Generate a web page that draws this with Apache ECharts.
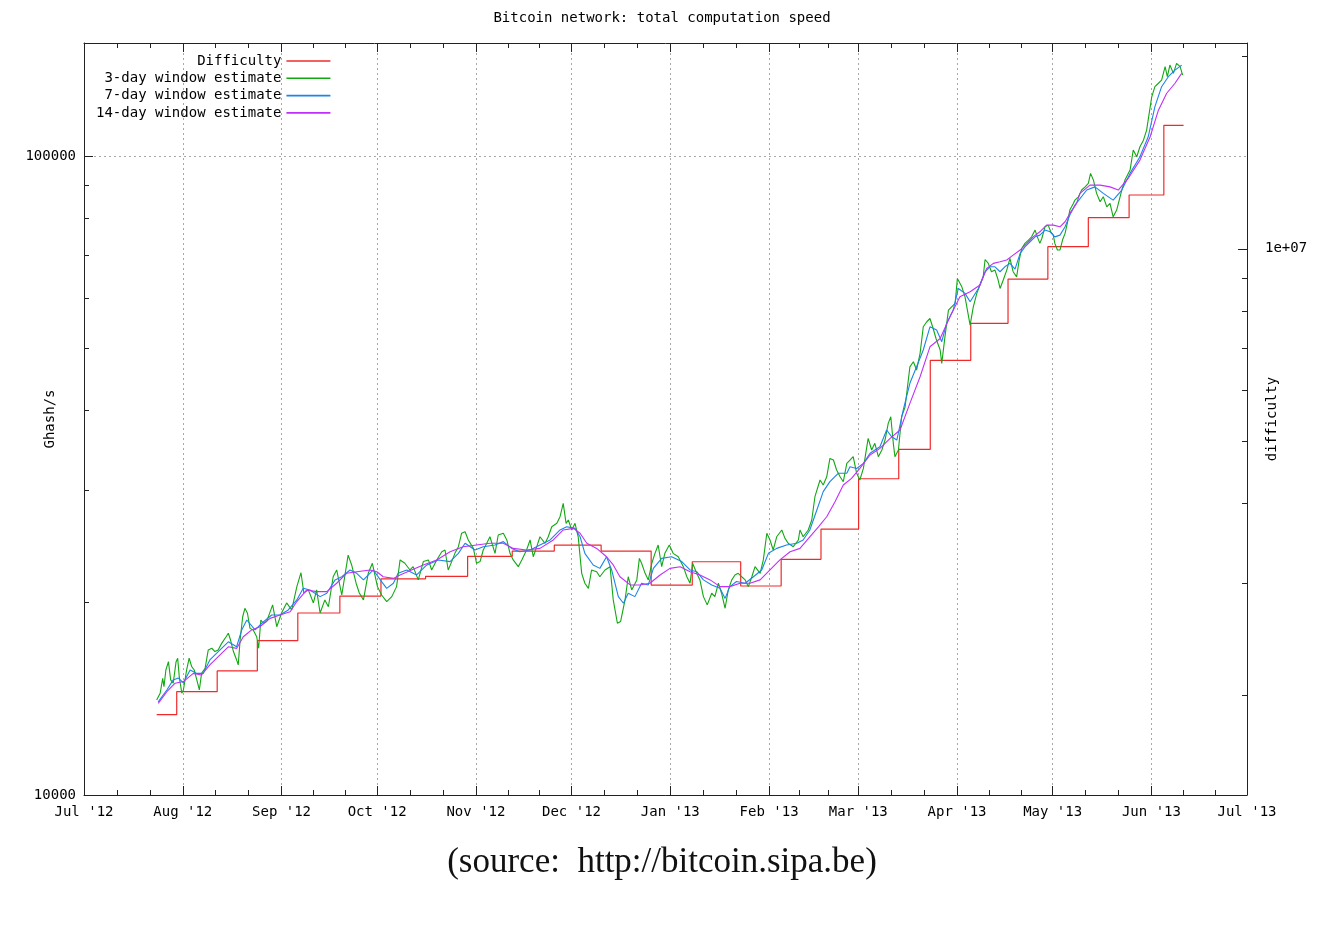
<!DOCTYPE html>
<html>
<head>
<meta charset="utf-8">
<script src="https://cdn.jsdelivr.net/npm/echarts@6/dist/echarts.min.js"></script>
<style>
html,body{margin:0;padding:0;background:#fff;}
#chart{width:1324px;height:929px;}
</style>
</head>
<body>
<div id="chart"></div>
<script>
// ---- data (x = days since 2012-07-01, y = value) ----
const monthNames = ['Jan','Feb','Mar','Apr','May','Jun','Jul','Aug','Sep','Oct','Nov','Dec'];
const seriesNames = ['Difficulty','3-day window estimate','7-day window estimate','14-day window estimate'];

// difficulty (right axis), each value starts at the given day
const difficulty = [[22.8,1866000],[29.1,2027000],[41.8,2185000],[54.4,2436000],[67.1,2692000],[80.3,2861000],[93.2,3045000],[107.2,3072000],[120.4,3302000],[134.4,3365000],[147.6,3438000],[162.3,3365000],[178.0,2977000],[190.9,3238000],[206.1,2967000],[218.8,3266000],[231.3,3643000],[243.1,4367000],[255.7,4855000],[265.6,6690000],[278.3,7646000],[290.0,8967000],[302.5,10077000],[315.2,11187000],[328.0,12140000],[338.9,15605000],[345.1,15605000]];

// hash-rate estimates, Ghash/s (left axis)
const est3 = [[22.8,14080],[23.9,14430],[24.7,15220],[25.1,14780],[25.7,15690],[26.5,16170],[27.2,15140],[28.0,14960],[28.9,16170],[29.4,16370],[29.9,15310],[30.7,14430],[31.2,14600],[32.2,15690],[33.0,16370],[33.8,15880],[34.6,15690],[35.4,15140],[36.2,14600],[36.9,15500],[38.0,15780],[39.0,16870],[40.1,16970],[41.1,16770],[42.1,16870],[43.2,17270],[44.6,17690],[45.3,17910],[46.0,17480],[46.9,16770],[47.9,16270],[48.4,15980],[49.0,17480],[49.8,19010],[50.5,19600],[51.3,19250],[52.1,18230],[53.1,18130],[54.2,17690],[54.8,16970],[55.5,18790],[56.3,18570],[57.3,18680],[59.2,19840],[60.5,18340],[62.0,19270],[63.6,19980],[65.2,19480],[66.8,21190],[68.1,22280],[69.0,20710],[70.4,20940],[72.0,19980],[73.0,20940],[74.1,19270],[75.6,20200],[76.7,19710],[78.2,21960],[79.3,22500],[80.9,20560],[82.9,23740],[84.0,22910],[85.4,21450],[86.4,20710],[87.7,20200],[89.2,22230],[90.5,23050],[92.1,21190],[93.4,20560],[95.0,20080],[96.6,20440],[98.1,21190],[99.2,23330],[100.7,23050],[102.3,22500],[103.3,22770],[104.9,21710],[106.5,23190],[108.1,23330],[109.1,22500],[110.7,23330],[112.3,24030],[113.3,24180],[114.3,22500],[115.4,23190],[116.4,23890],[117.5,24470],[118.5,25680],[119.6,25830],[120.6,25070],[122.2,24320],[123.2,23050],[124.3,23190],[125.3,24180],[126.4,24770],[127.4,25360],[129.0,23890],[130.0,25520],[131.6,25680],[132.7,25070],[133.7,23890],[134.7,23330],[136.3,22770],[137.4,23330],[138.9,24180],[140.0,25070],[141.0,23600],[142.1,24470],[143.1,25360],[144.7,24770],[145.7,25360],[146.8,26290],[148.4,26620],[149.4,27260],[150.4,28610],[151.3,26620],[152.0,26940],[153.1,25990],[154.1,26620],[155.1,25360],[156.2,22230],[157.2,21450],[158.3,21060],[159.3,22500],[160.9,22360],[161.9,21960],[163.5,22500],[165.1,22770],[166.1,20200],[167.4,18570],[168.4,18680],[169.8,20200],[170.8,21960],[171.9,20940],[173.5,21710],[174.3,23460],[175.0,23050],[176.1,22230],[177.1,21710],[178.2,23050],[179.2,23890],[180.2,24620],[181.3,22770],[182.3,23890],[183.7,24620],[184.9,23890],[186.5,23600],[188.1,22770],[189.2,21960],[190.2,21450],[191.0,23050],[192.3,22230],[193.3,21710],[194.4,20440],[195.6,19840],[197.0,20690],[198.0,20440],[199.1,21450],[200.1,20690],[201.2,19600],[202.2,20940],[203.3,21710],[204.3,22100],[205.3,22230],[206.4,21960],[207.5,21710],[208.5,21190],[209.6,21960],[210.6,22770],[212.2,22230],[213.2,23330],[214.3,25680],[215.3,25070],[216.3,24180],[217.4,25360],[219.0,25990],[220.0,25210],[221.0,24770],[222.6,24470],[224.2,25070],[224.7,25990],[225.7,25360],[227.3,25990],[228.4,26940],[229.4,29300],[231.0,31120],[232.0,30560],[233.1,31480],[234.1,33630],[235.2,33440],[236.2,32260],[237.3,31480],[238.3,30930],[239.4,33040],[240.4,33440],[241.4,33840],[242.5,31880],[243.5,31120],[244.6,32440],[246.1,36150],[247.2,34670],[248.2,35510],[249.3,33840],[250.4,34670],[251.4,35940],[252.4,38160],[253.2,39080],[254.0,35510],[254.5,33840],[255.6,34670],[256.6,39080],[257.7,40510],[259.2,46790],[260.3,47660],[261.3,46250],[262.4,49120],[263.4,54050],[264.5,55040],[265.5,55690],[266.5,53720],[267.4,51820],[268.7,49710],[269.2,47380],[270.2,52130],[271.3,57410],[272.3,58090],[273.4,58810],[274.1,64330],[275.5,62430],[276.5,60210],[278.1,54380],[279.1,58090],[280.2,60970],[281.2,62820],[282.2,64710],[282.8,68880],[283.8,67930],[284.8,65910],[285.9,66310],[286.9,63970],[287.5,62060],[288.5,63970],[289.6,66310],[290.6,69140],[291.6,65910],[292.7,64710],[293.5,68750],[294.3,71670],[295.3,73000],[296.4,73880],[297.4,74740],[298.5,76590],[299.2,74740],[300.0,73000],[300.6,74300],[301.6,77490],[302.6,77970],[303.4,76120],[304.2,75220],[304.7,73000],[305.5,71270],[306.3,71270],[307.1,73880],[307.9,75680],[308.6,78460],[309.4,82310],[310.5,84310],[311.0,85330],[312.1,86350],[313.1,88480],[314.2,89490],[315.2,90610],[315.9,93950],[316.8,91700],[317.8,87430],[318.9,84810],[319.9,86350],[321.0,83270],[322.0,84310],[323.0,80330],[324.1,82310],[324.9,85330],[325.7,88480],[326.7,91700],[328.3,95080],[329.3,102200],[330.4,99750],[331.4,103400],[332.5,105900],[333.5,109800],[334.3,116600],[335.1,123800],[336.1,128400],[337.2,130000],[338.2,131500],[339.3,138000],[340.0,133100],[340.8,138800],[341.9,134700],[342.9,139700],[344.0,138000],[344.8,133900]];

const est7 = [[23.3,13990],[26.0,14600],[28.0,15140],[29.6,15240],[31.2,14980],[33.3,15690],[35.4,15500],[37.4,15500],[39.5,16270],[42.7,16870],[45.3,17370],[47.9,17060],[49.5,18130],[51.1,18790],[53.7,18130],[55.8,18570],[58.9,19130],[61.5,19130],[64.1,19480],[66.8,20200],[68.8,21060],[70.9,20940],[74.1,20440],[76.2,20690],[78.8,21710],[80.9,21960],[83.5,22500],[85.6,22230],[87.7,21710],[90.8,22500],[93.4,21580],[95.0,21060],[97.1,21450],[98.6,22230],[101.3,22500],[104.4,22100],[107.6,22910],[111.2,23330],[114.9,23190],[117.5,23890],[119.6,24770],[122.7,24180],[125.3,24470],[129.0,24620],[131.6,24920],[134.2,24320],[136.8,24030],[140.0,24180],[143.1,24620],[146.3,25070],[149.4,25990],[151.5,26290],[154.1,26140],[155.7,25360],[157.2,23890],[159.8,22910],[161.9,22630],[164.0,23600],[165.6,22500],[167.7,20440],[169.3,19960],[170.8,20690],[172.9,20440],[175.0,21450],[177.1,21320],[178.7,22630],[181.3,23460],[184.4,23600],[187.6,23190],[190.2,22500],[192.3,22360],[194.4,21710],[197.0,21320],[199.6,21060],[201.2,20310],[202.7,21190],[204.8,21580],[207.5,21450],[210.1,21960],[212.7,22500],[214.8,23890],[217.4,24320],[220.5,24620],[223.7,24770],[225.7,25070],[227.8,25990],[230.0,27930],[232.0,29840],[234.1,30930],[236.7,31880],[239.4,31880],[240.4,32630],[242.5,32440],[244.6,33040],[246.7,34260],[249.8,35070],[251.9,37260],[253.5,36360],[255.1,35940],[257.1,40040],[259.2,44090],[261.3,46790],[263.4,49710],[265.5,54050],[267.6,53420],[269.2,51220],[270.7,54720],[272.8,57410],[274.4,62060],[276.5,60970],[278.1,59160],[280.7,62060],[282.8,65910],[284.3,67090],[285.9,67090],[287.5,65910],[289.0,67090],[290.6,67930],[292.2,66520],[293.8,70420],[295.3,72100],[296.9,73430],[298.5,74740],[300.0,75210],[301.6,76590],[303.2,76120],[304.7,74740],[306.3,75210],[307.9,77490],[309.4,80830],[311.0,83790],[314.7,88480],[317.3,89490],[319.9,87430],[323.0,85330],[325.7,88480],[328.3,93950],[331.4,99750],[334.0,107200],[336.1,119500],[338.2,128400],[340.3,133100],[342.4,136300],[344.5,138800]];

const est14 = [[23.3,13910],[26.0,14510],[28.6,14960],[31.2,15050],[34.3,15500],[36.9,15410],[39.5,15980],[42.7,16570],[45.3,17060],[47.9,16960],[50.0,17690],[52.6,18130],[55.2,18340],[58.4,18900],[61.5,19130],[64.7,19360],[66.8,20080],[69.9,20940],[73.0,20810],[76.2,20810],[79.3,21450],[82.4,22230],[85.6,22360],[89.8,22500],[91.9,22360],[93.9,21960],[97.1,21830],[99.2,22100],[102.8,22500],[106.5,22910],[110.7,23330],[114.9,24030],[119.0,24470],[123.2,24620],[127.4,24770],[131.6,24770],[134.7,24320],[138.9,24180],[143.1,24320],[147.3,25070],[150.4,25990],[153.6,26140],[155.7,25680],[157.8,24770],[160.9,24320],[164.0,23600],[166.1,22910],[168.2,21960],[171.4,21320],[174.5,21320],[177.6,21450],[180.8,22100],[183.9,22630],[187.1,22770],[190.2,22360],[193.3,22100],[196.5,21710],[199.6,21190],[202.7,21190],[205.9,21450],[209.0,21450],[212.2,21710],[215.3,22500],[218.4,23330],[221.6,24030],[224.7,24320],[227.8,25360],[230.5,26290],[233.1,27260],[235.7,28770],[238.3,30560],[240.9,31300],[243.5,32440],[246.7,34050],[249.8,34870],[253.0,36150],[256.1,37260],[259.2,41020],[262.4,45140],[265.5,50290],[268.7,51820],[271.8,56030],[274.9,60210],[278.1,61320],[281.2,62820],[283.3,66690],[285.4,67930],[287.5,68330],[289.6,68750],[291.6,69990],[293.8,71270],[295.9,73000],[297.9,74740],[300.0,76120],[302.1,77970],[304.2,77970],[306.3,77490],[307.9,78920],[309.4,81330],[311.5,84310],[312.6,87430],[315.7,90050],[318.9,90050],[322.0,89490],[324.6,88480],[327.7,92240],[331.4,98560],[334.6,107200],[337.2,118000],[339.8,125400],[342.4,130000],[344.5,134700]];

// axis ranges and tick values
const hashMin = 10000, hashMax = 150300;
const leftMajorTicks = [10000, 100000];
const leftMinorTicks = [20000,30000,40000,50000,60000,70000,80000,90000];
const rightMajorTicks = [10000000];
const rightMinorTicks = [2000000,3000000,4000000,5000000,6000000,7000000,8000000,9000000,20000000];

// ---- helpers ----
const DAY = 86400000;
const t0 = new Date(2012, 6, 1).getTime();
const t1 = new Date(2013, 6, 1).getTime();
const toTime = d => t0 + d * DAY;
const GH_PER_DIFF = Math.pow(2, 32) / 600 / 1e9; // Ghash/s per unit difficulty
const diffMin = hashMin / GH_PER_DIFF, diffMax = hashMax / GH_PER_DIFF;

const monthTicks = [];
for (let i = 0; i <= 12; i++) monthTicks.push(new Date(2012, 6 + i, 1).getTime());
const monthMinor = [];
for (let i = 0; i < 12; i++) {
  const a = monthTicks[i], b = monthTicks[i + 1];
  monthMinor.push(a + (b - a) / 3, a + 2 * (b - a) / 3);
}

const MONO = '"DejaVu Sans Mono", "Liberation Mono", monospace';
const FS = 14;
const BORDER = '#222';
const gridLine = { show: true, lineStyle: { color: '#a8a8a8', width: 1, type: [2, 3] } };

function tAxis(pos, ticks, len, withLine, withLabel, withSplit) {
  return {
    type: 'value', position: pos, min: t0, max: t1, scale: true,
    axisLine: { show: withLine, onZero: false, lineStyle: { color: BORDER, width: 1 } },
    axisTick: { show: true, inside: true, length: len, customValues: ticks, lineStyle: { color: BORDER, width: 1 } },
    axisLabel: withLabel ? {
      show: true, customValues: monthTicks, margin: 10, color: '#000',
      fontFamily: MONO, fontSize: FS, hideOverlap: false,
      formatter: v => { const d = new Date(v); return monthNames[d.getMonth()] + " '" + String(d.getFullYear()).slice(2); }
    } : { show: false },
    splitLine: withSplit ? gridLine : { show: false },
    minorTick: { show: false }, minorSplitLine: { show: false }
  };
}

function lAxis(pos, min, max, ticks, len, withLine, labelOpt, nameOpt, withSplit) {
  const ax = {
    type: 'log', logBase: 10, position: pos, min: min, max: max,
    axisLine: { show: withLine, onZero: false, lineStyle: { color: BORDER, width: 1 } },
    axisTick: { show: true, inside: true, length: len, customValues: ticks, lineStyle: { color: BORDER, width: 1 } },
    axisLabel: labelOpt || { show: false },
    splitLine: withSplit ? gridLine : { show: false },
    minorTick: { show: false }, minorSplitLine: { show: false },
    nameMoveOverlap: false
  };
  if (nameOpt) Object.assign(ax, nameOpt);
  return ax;
}

const chart = echarts.init(document.getElementById('chart'), null, { renderer: 'canvas' });
chart.setOption({
  animation: false,
  backgroundColor: '#fff',
  title: {
    text: 'Bitcoin network: total computation speed',
    left: 'center', top: 6,
    textStyle: { fontFamily: MONO, fontSize: FS, fontWeight: 'normal', color: '#000' }
  },
  legend: {
    data: seriesNames, orient: 'vertical', left: 91, top: 49, align: 'right',
    icon: 'rect', itemWidth: 44, itemHeight: 1.6, itemGap: 3.3, selectedMode: false,
    textStyle: { fontFamily: MONO, fontSize: FS, color: '#000', lineHeight: 14 }
  },
  grid: { left: 84, right: 77, top: 43, bottom: 134, containLabel: false, outerBoundsMode: 'none' },
  xAxis: [
    tAxis('bottom', monthTicks, 9, true, true, true),
    tAxis('bottom', monthMinor, 5, false, false, false),
    tAxis('top', monthTicks, 9, true, false, false),
    tAxis('top', monthMinor, 5, false, false, false)
  ],
  yAxis: [
    lAxis('left', hashMin, hashMax, leftMajorTicks, 9, true,
      { show: true, customValues: leftMajorTicks, margin: 8, color: '#000', fontFamily: MONO, fontSize: FS,
        formatter: v => String(Math.round(v)) },
      { name: 'Ghash/s', nameLocation: 'middle', nameGap: 27, nameRotate: 90,
        nameTextStyle: { fontFamily: MONO, fontSize: FS, color: '#000' } }, true),
    lAxis('left', hashMin, hashMax, leftMinorTicks, 5, false, null, null, false),
    lAxis('right', diffMin, diffMax, rightMajorTicks, 9, true,
      { show: true, customValues: rightMajorTicks, margin: 18, color: '#000', fontFamily: MONO, fontSize: FS,
        formatter: v => '1e+' + String(Math.round(Math.log10(v))).padStart(2, '0') },
      { name: 'difficulty', nameLocation: 'middle', nameGap: 18, nameRotate: 90,
        nameTextStyle: { fontFamily: MONO, fontSize: FS, color: '#000' } }, false),
    lAxis('right', diffMin, diffMax, rightMinorTicks, 5, false, null, null, false)
  ],
  graphic: [{
    type: 'text', left: 'center', top: 845,
    style: { text: '(source:  http://bitcoin.sipa.be)', font: '35px "Liberation Serif", "DejaVu Serif", serif', fill: '#111' }
  }],
  series: [
    { name: seriesNames[0], type: 'line', step: 'end', xAxisIndex: 0, yAxisIndex: 2,
      data: difficulty.map(p => [toTime(p[0]), p[1]]),
      showSymbol: false, symbol: 'none', lineStyle: { color: '#f02a2a', width: 1.2 }, itemStyle: { color: '#f02a2a' } },
    { name: seriesNames[1], type: 'line', xAxisIndex: 0, yAxisIndex: 0,
      data: est3.map(p => [toTime(p[0]), p[1]]),
      showSymbol: false, symbol: 'none', lineStyle: { color: '#12a812', width: 1.1 }, itemStyle: { color: '#12a812' } },
    { name: seriesNames[2], type: 'line', xAxisIndex: 0, yAxisIndex: 0,
      data: est7.map(p => [toTime(p[0]), p[1]]),
      showSymbol: false, symbol: 'none', lineStyle: { color: '#1b86e8', width: 1.1 }, itemStyle: { color: '#1b86e8' } },
    { name: seriesNames[3], type: 'line', xAxisIndex: 0, yAxisIndex: 0,
      data: est14.map(p => [toTime(p[0]), p[1]]),
      showSymbol: false, symbol: 'none', lineStyle: { color: '#c030f8', width: 1.1 }, itemStyle: { color: '#c030f8' } }
  ]
});
</script>
</body>
</html>
